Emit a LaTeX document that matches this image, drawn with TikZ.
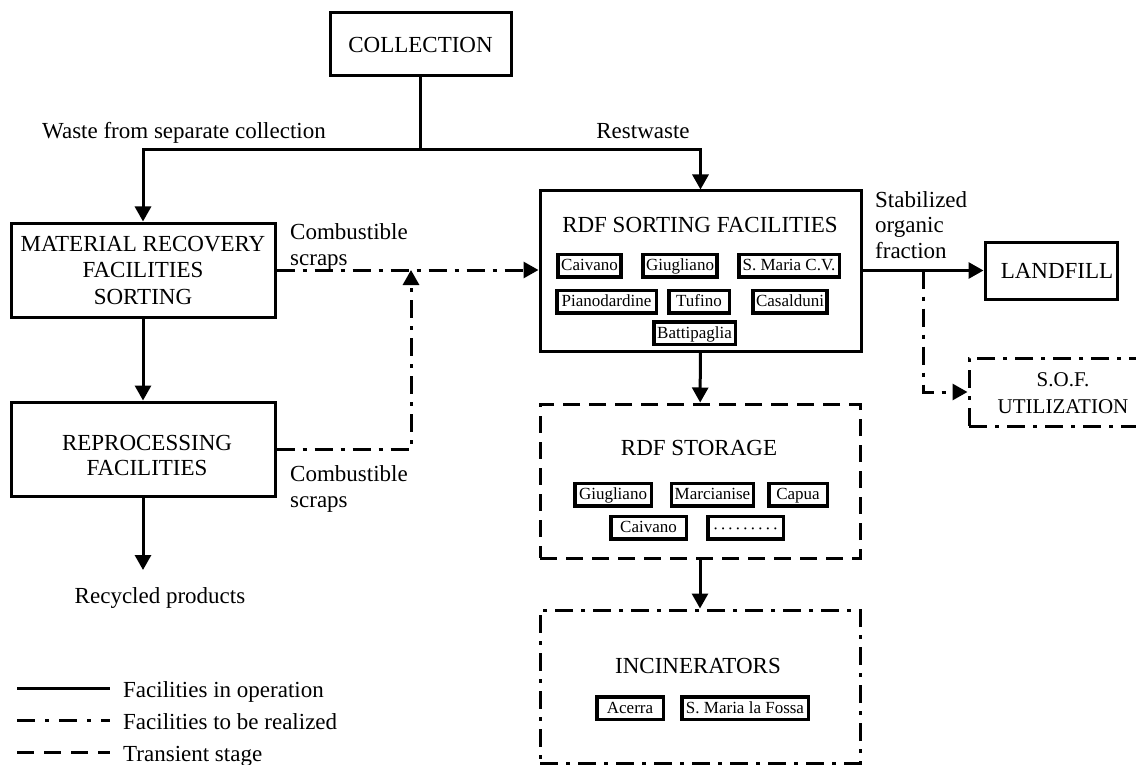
\documentclass[tikz,border=0pt]{standalone}
\usepackage{fontspec}
\setmainfont{Liberation Serif}
\usetikzlibrary{arrows.meta}
\begin{document}
\begin{tikzpicture}[x=1pt,y=-1pt,
  every node/.style={font=\fontsize{23}{25.5}\selectfont, inner sep=0pt},
  line/.style={line width=3pt},
  flow/.style={line width=3pt, -{Triangle[length=15pt,width=16pt]}},
  dashdot/.style={dash pattern=on 18pt off 8pt on 4pt off 8pt},
  transient/.style={dash pattern=on 17pt off 9pt},
  facility/.style={draw, line width=3pt, align=center},
  site/.style={draw, line width=3.5pt, font=\fontsize{17}{20}\selectfont,
    inner xsep=3pt, text height=13pt, text depth=3pt, minimum height=22.5pt},
  lbl/.style={align=left, anchor=west},
]
\useasboundingbox (0,0) rectangle (1136,765);

% ---- main facilities ----
\node[facility, minimum width=181pt, minimum height=63pt] (coll) at (420.5,44.5) {COLLECTION};

\node[facility, minimum width=264pt, minimum height=94pt,
      font=\fontsize{23}{26.5}\selectfont] (mrf) at (143,270)
      {MATERIAL RECOVERY\\FACILITIES\\SORTING};

\node[facility, minimum width=264pt, minimum height=94pt] (rep) at (143,449) {};
\node[align=center] (reptxt) at (147,455.5) {REPROCESSING\\FACILITIES};

\node[facility, minimum width=321pt, minimum height=160pt] (rdf) at (700.5,271) {};
\node (rdft) at (700,225) {RDF SORTING FACILITIES};

\node[facility, transient, minimum width=320pt, minimum height=154pt] (sto) at (700,481) {};
\node (stot) at (699,448) {RDF STORAGE};

\node[facility, dashdot, minimum width=320pt, minimum height=153pt] (inc) at (700,686.5) {};
\node (inct) at (698,666) {INCINERATORS};

\node[facility, minimum width=132pt, minimum height=57pt] (land) at (1051,270.5) {};
\node (landt) at (1057,271) {LANDFILL};

\node[facility, dashdot, minimum width=188pt, minimum height=68pt] (sof) at (1063,392) {};
\node[align=center, font=\fontsize{21}{27}\selectfont] (soft) at (1063,393.5) {S.O.F.\\UTILIZATION};

% ---- plants inside the RDF sorting facilities ----
\node[site, minimum width=61.5pt]  (s1) at (589.5,265.5) {Caivano};
\node[site, minimum width=70.5pt]  (s2) at (680,265.5)   {Giugliano};
\node[site, minimum width=100.5pt] (s3) at (789,265.5)   {S. Maria C.V.};
\node[site, minimum width=99.5pt]  (s4) at (606.5,301.5) {Pianodardine};
\node[site, minimum width=60.5pt]  (s5) at (699,301.5)   {Tufino};
\node[site, minimum width=72.5pt]  (s6) at (790,301.5)   {Casalduni};
\node[site, minimum width=81.5pt]  (s7) at (694.5,333)   {Battipaglia};

% ---- storage sites ----
\node[site, minimum width=76.5pt] (t1) at (613,494.5)   {Giugliano};
\node[site, minimum width=81.5pt] (t2) at (712.5,494.5) {Marcianise};
\node[site, minimum width=58.5pt] (t3) at (798,494.5)   {Capua};
\node[site, minimum width=75.5pt] (t4) at (648.5,527.5) {Caivano};
\node[site, minimum width=75.5pt] (t5) at (745.5,527.5)
  {\raisebox{-2pt}{·\kern1.8pt·\kern1.8pt·\kern1.8pt·\kern1.8pt·\kern1.8pt·\kern1.8pt·\kern1.8pt·\kern1.8pt·}};

% ---- incinerators ----
\node[site, minimum width=66.5pt]  (i1) at (630,708) {Acerra};
\node[site, minimum width=126.5pt] (i2) at (745,708) {S. Maria la Fossa};

% ---- flow labels ----
\node[anchor=base] (wlbl) at (184,139) {Waste from separate collection};
\node[anchor=base] (rlbl) at (643,139) {Restwaste};
\node[lbl] (cs1) at (290,247) {Combustible\\scraps};
\node[lbl] (cs2) at (290,489) {Combustible\\scraps};
\node[lbl] (sofl) at (875,225) {Stabilized\\organic\\fraction};
\node[anchor=base] (recyc) at (160,603) {Recycled products};

% ---- connectors ----
\coordinate (jc) at (420.5,150);
\draw[line] (coll.south) -- (jc);
\draw[flow] (jc) -| (mrf.north);
\draw[flow] (jc) -| (rdf.north);
\draw[flow] (mrf) -- (rep);
\coordinate (rp) at (143,570);
\draw[flow] (rep.south) -- (rp);

\draw[flow, dashdot] (mrf.east) -- (mrf.east -| rdf.west);
\coordinate (cj) at (411,270);
\draw[flow, dashdot] (rep.east) -| (cj);

\draw[flow] (rdf) -- (sto);
\draw[flow] (sto) -- (inc);

\draw[flow] (rdf.east |- land.west) -- (land.west);
\coordinate (sj) at (923,270.5);
\draw[flow, dashdot] (sj) |- (sof.west);

% ---- legend ----
\coordinate (la1) at (17,688);  \coordinate (lb1) at (110,688);
\coordinate (la2) at (17,720);  \coordinate (lb2) at (110,720);
\coordinate (la3) at (17,752);  \coordinate (lb3) at (110,752);
\draw[line] (la1) -- (lb1);
\draw[line, dash pattern=on 18pt off 10pt on 4pt off 10pt] (la2) -- (lb2);
\draw[line, dash pattern=on 17pt off 10pt] (la3) -- (lb3);
\node[anchor=base west] (lg1) at (123,697) {Facilities in operation};
\node[anchor=base west] (lg2) at (123,729) {Facilities to be realized};
\node[anchor=base west] (lg3) at (123,761) {Transient stage};
\end{tikzpicture}
\end{document}
